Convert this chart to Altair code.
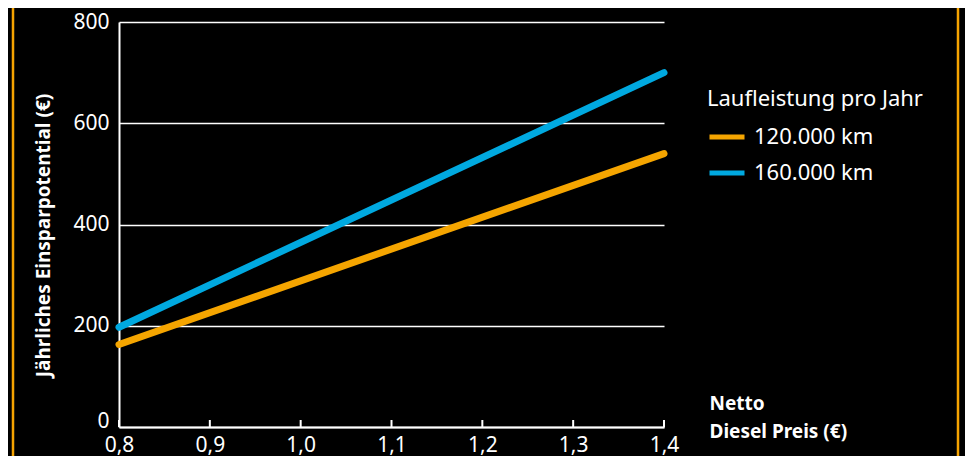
import altair as alt
import pandas as pd

# ---- data ----
price = [0.8, 1.4]
km_120 = [163, 540]
km_160 = [197, 700]
series = ["120.000 km", "160.000 km"]
colors = ["#f5a500", "#00a9e0"]
x_ticks = [0.8, 0.9, 1.0, 1.1, 1.2, 1.3, 1.4]
y_ticks = [0, 200, 400, 600, 800]

rows = []
for s, vals in zip(series, [km_120, km_160]):
    for p, v in zip(price, vals):
        rows.append({"Preis": p, "Wert": v, "Serie": s})
df = pd.DataFrame(rows)
ticks_df = pd.DataFrame({"Preis": x_ticks})
border_df = pd.DataFrame({"b": [0]})

W, H = 545, 405
FONT = "Noto Sans"

x_scale = alt.Scale(domain=[0.8, 1.4], nice=False, zero=False)
y_scale = alt.Scale(domain=[0, 800], nice=False)

x_axis = alt.Axis(
    values=x_ticks,
    format=".1f",
    labelExpr="replace(datum.label, '.', ',')",
    ticks=False,
    grid=False,
    domainColor="white",
    domainWidth=2,
    labelColor="white",
    labelFontSize=21,
    labelPadding=7,
    labelFlush=False,
    title=["Netto", "Diesel Preis (€)"],
    titleX=590,
    titleY=-33,
    titleAlign="left",
    titleBaseline="top",
    titleColor="white",
    titleFontSize=19,
    titleFontWeight="bold",
    titleLineHeight=28,
)

lines = alt.Chart(df).mark_line(strokeWidth=7, strokeCap="round").encode(
    x=alt.X("Preis:Q", scale=x_scale, axis=x_axis),
    y=alt.Y(
        "Wert:Q",
        scale=y_scale,
        axis=alt.Axis(
            values=y_ticks,
            ticks=False,
            grid=True,
            gridColor="white",
            gridWidth=1.5,
            domainColor="white",
            domainWidth=2,
            labelColor="white",
            labelFontSize=21,
            labelPadding=10,
            labelFlush=False,
            labelBaseline=alt.condition(
                "datum.value == 0", alt.value("alphabetic"), alt.value("middle")
            ),
            title="Jährliches Einsparpotential (€)",
            titleColor="white",
            titleFontSize=19,
            titleFontWeight="bold",
            titleX=-76,
            titleY=213,
            titleAngle=270,
            titleAlign="center",
            titleBaseline="middle",
        ),
    ),
    color=alt.Color(
        "Serie:N",
        scale=alt.Scale(domain=series, range=colors),
        legend=alt.Legend(
            orient="none",
            legendX=588,
            legendY=67,
            title="Laufleistung pro Jahr",
            titleColor="white",
            titleFontSize=22,
            titleFontWeight="normal",
            titleLimit=400,
            titlePadding=6,
            labelColor="white",
            labelFontSize=22,
            labelLimit=300,
            labelOffset=7,
            symbolType="stroke",
            symbolStrokeWidth=5,
            symbolSize=1225,
            rowPadding=5,
        ),
    ),
)

tick_marks = alt.Chart(ticks_df).mark_rule(color="white", strokeWidth=2).encode(
    x=alt.X("Preis:Q", scale=x_scale, axis=x_axis),
    y=alt.value(H),
    y2=alt.value(H - 7),
)

border_left = alt.Chart(border_df).mark_rule(color="#f5a300", strokeWidth=2.5).encode(
    x=alt.value(-106), y=alt.value(-20), y2=alt.value(H + 40)
)
border_right = alt.Chart(border_df).mark_rule(color="#f5a300", strokeWidth=2.5).encode(
    x=alt.value(839), y=alt.value(-20), y2=alt.value(H + 40)
)

chart = (
    alt.layer(border_left, border_right, tick_marks, lines)
    .properties(
        width=W,
        height=H,
        autosize=alt.AutoSizeParams(type="none"),
        padding={"left": 111, "top": 14, "right": 301, "bottom": 29},
        background="black",
    )
    .configure(font=FONT)
    .configure_view(stroke=None)
)

chart.save("out.html", embed_options={"renderer": "svg", "actions": False})
